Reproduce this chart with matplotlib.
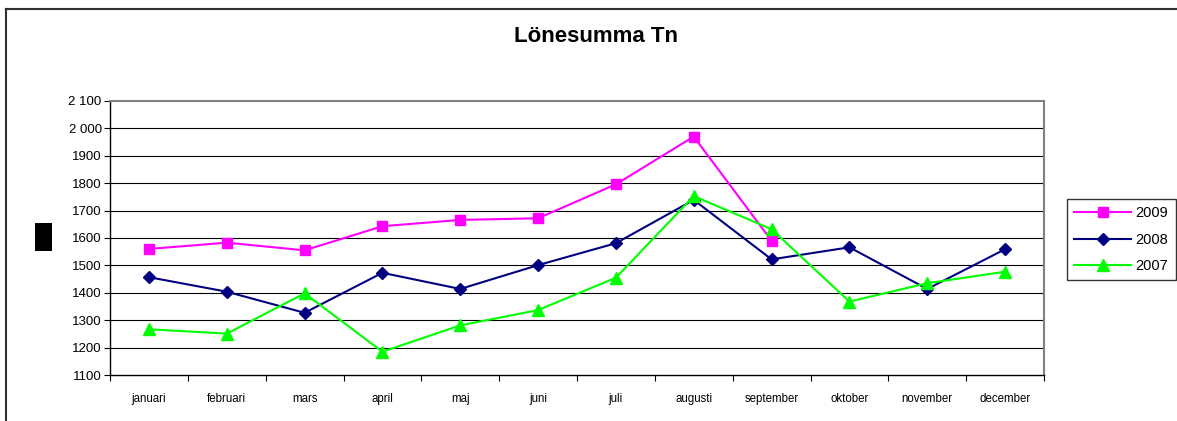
import matplotlib.pyplot as plt
import numpy as np
from matplotlib.lines import Line2D
from matplotlib.patches import Rectangle

plt.rcParams['font.family'] = ['Liberation Sans', 'DejaVu Sans']

# data
months = ['januari', 'februari', 'mars', 'april', 'maj', 'juni', 'juli',
          'augusti', 'september', 'oktober', 'november', 'december']
y2009 = [1560, 1583, 1555, 1643, 1666, 1672, 1796, 1970, 1590]
y2008 = [1457, 1404, 1327, 1473, 1414, 1501, 1581, 1739, 1522, 1566, 1414, 1559]
y2007 = [1267, 1251, 1398, 1185, 1281, 1337, 1455, 1753, 1632, 1368, 1435, 1477]
yticks = [1100, 1200, 1300, 1400, 1500, 1600, 1700, 1800, 1900, 2000, 2100]
ytick_labels = ['1100', '1200', '1300', '1400', '1500', '1600', '1700',
                '1800', '1900', '2 000', '2 100']

W, H = 1177, 421
fig = plt.figure(figsize=(W / 100, H / 100), dpi=100)

# plot area in pixels: x 110..1044, y 101..375
ax = fig.add_axes([110 / W, (H - 375) / H, 934 / W, 274 / H])

x = np.arange(len(months)) + 0.5
ax.plot(x[:len(y2009)], y2009, color='#FF00FF', marker='s', markersize=7,
        linewidth=1.5, label='2009')
ax.plot(x, y2008, color='#000080', marker='D', markersize=6.5,
        linewidth=1.5, label='2008')
ax.plot(x, y2007, color='#00FF00', marker='^', markersize=8.5,
        linewidth=1.5, label='2007')

ax.set_xlim(0, 12)
ax.set_ylim(1100, 2100)
ax.set_yticks(yticks)
ax.set_yticklabels(ytick_labels, fontsize=9.5)
for yv in yticks[1:-1]:
    ax.axhline(yv, color='black', linewidth=0.8, zorder=0)

# category boundaries as ticks, labels centred
ax.set_xticks(np.arange(13))
ax.set_xticklabels([])
ax.set_xticks(x, minor=True)
ax.set_xticklabels(months, minor=True, fontsize=8.3)
ax.tick_params(axis='x', which='major', length=4, direction='out')
ax.tick_params(axis='x', which='minor', length=0, pad=13)
ax.tick_params(axis='y', length=4, direction='out', pad=2)

ax.spines['top'].set_color('#808080')
ax.spines['right'].set_color('#808080')
ax.spines['top'].set_linewidth(1.5)
ax.spines['right'].set_linewidth(1.5)
ax.spines['left'].set_linewidth(1)
ax.spines['bottom'].set_linewidth(1)

fig.text(596 / W, 1 - 36 / H, 'Lönesumma Tn', ha='center', va='center',
         fontsize=16, fontweight='bold')

leg = fig.legend(loc='upper left', bbox_to_anchor=(1067 / W, 1 - 199 / H),
                 frameon=True, fancybox=False, edgecolor='black',
                 fontsize=10.5, handlelength=3.9, handletextpad=0.3,
                 labelspacing=0.85, borderpad=0.5, borderaxespad=0)
leg.get_frame().set_linewidth(1)

# outer chart border (top and left only visible)
fig.add_artist(Line2D([6 / W, 1], [1 - 9 / H, 1 - 9 / H], color='#303030',
                      linewidth=1.5, transform=fig.transFigure))
fig.add_artist(Line2D([6 / W, 6 / W], [0, 1 - 9 / H], color='#303030',
                      linewidth=1.5, transform=fig.transFigure))

# redacted axis title block
fig.add_artist(Rectangle((35 / W, 1 - 251 / H), 17 / W, 28 / H,
                         facecolor='black', edgecolor='none',
                         transform=fig.transFigure))

fig.savefig('out.png', dpi=100)
